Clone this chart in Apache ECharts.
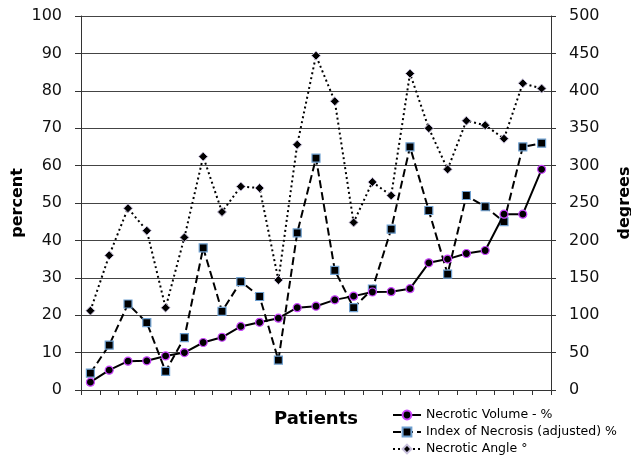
<!DOCTYPE html>
<html>
<head>
<meta charset="utf-8">
<script src="https://cdn.jsdelivr.net/npm/echarts@6/dist/echarts.min.js"></script>
<style>
html,body{margin:0;padding:0;background:#fff;}
#chart{width:631px;height:457px;}
</style>
</head>
<body>
<div id="chart"></div>
<script>
var patients = ['1','2','3','4','5','6','7','8','9','10','11','12','13','14','15','16','17','18','19','20','21','22','23','24','25'];
var necroticVolume = [2.1, 5.3, 7.7, 7.8, 9.1, 10.0, 12.7, 14.1, 17.0, 18.1, 19.2, 22.0, 22.4, 24.1, 25.1, 26.2, 26.3, 27.1, 34.0, 35.0, 36.5, 37.3, 47.0, 47.0, 59.0];
var indexOfNecrosis = [4.5, 12, 23, 18, 5, 14, 38, 21, 29, 25, 8, 42, 62, 32, 22, 27, 43, 65, 48, 31, 52, 49, 45, 65, 66];
var necroticAngle = [106, 180, 243, 213, 110, 204, 312, 238, 272, 270, 147, 328, 447, 386, 224, 278, 260, 423, 350, 295, 360, 354, 336, 410, 403];

var FONT = 'DejaVu Sans';
var chart = echarts.init(document.getElementById('chart'), null, {renderer: 'canvas'});
chart.setOption({
  animation: false,
  backgroundColor: '#ffffff',
  textStyle: {fontFamily: FONT, color: '#000'},
  grid: {left: 81, right: 80, top: 16, bottom: 67, containLabel: false, outerBoundsMode: 'none'},
  legend: {
    orient: 'vertical',
    left: 392,
    top: 408,
    height: 60,
    padding: 0,
    itemWidth: 28,
    itemHeight: 11,
    itemGap: 3,
    textStyle: {fontFamily: FONT, fontSize: 12.5, lineHeight: 14, color: '#000'},
    data: ['Necrotic Volume - %', 'Index of Necrosis (adjusted) %', 'Necrotic Angle °']
  },
  xAxis: {
    type: 'category',
    data: patients,
    boundaryGap: true,
    name: 'Patients',
    nameLocation: 'middle',
    nameGap: 20,
    nameTextStyle: {fontFamily: FONT, fontSize: 18, fontWeight: 'bold', color: '#000'},
    axisLine: {lineStyle: {color: '#333', width: 1}},
    axisTick: {show: true, interval: 0, length: 5, lineStyle: {color: '#333'}},
    axisLabel: {show: false, interval: 0},
    splitLine: {show: false}
  },
  yAxis: [
    {
      type: 'value', min: 0, max: 100, interval: 10,
      name: 'percent', nameLocation: 'middle', nameGap: 55, nameRotate: 90,
      nameMoveOverlap: false,
      nameTextStyle: {fontFamily: FONT, fontSize: 16, fontWeight: 'bold', color: '#000'},
      axisLine: {show: true, lineStyle: {color: '#333', width: 1}},
      axisTick: {show: true, length: 6, lineStyle: {color: '#333'}},
      axisLabel: {fontFamily: FONT, fontSize: 16, color: '#111', margin: 19},
      splitLine: {show: true, lineStyle: {color: '#444', width: 1}}
    },
    {
      type: 'value', min: 0, max: 500, interval: 50,
      name: 'degrees', nameLocation: 'middle', nameGap: 66, nameRotate: 90,
      nameTextStyle: {fontFamily: FONT, fontSize: 16, fontWeight: 'bold', color: '#000'},
      axisLine: {show: true, lineStyle: {color: '#333', width: 1}},
      axisTick: {show: true, length: 5, lineStyle: {color: '#333'}},
      axisLabel: {fontFamily: FONT, fontSize: 16, color: '#111', margin: 18},
      splitLine: {show: false}
    }
  ],
  series: [
    {
      name: 'Necrotic Angle °',
      type: 'line',
      yAxisIndex: 1,
      data: necroticAngle,
      symbol: 'diamond',
      symbolSize: 9,
      lineStyle: {color: '#000', width: 2, type: [2, 3]},
      itemStyle: {color: '#000', borderColor: '#c8c0dc', borderWidth: 1},
      z: 2
    },
    {
      name: 'Index of Necrosis (adjusted) %',
      type: 'line',
      yAxisIndex: 0,
      data: indexOfNecrosis,
      symbol: 'rect',
      symbolSize: 8,
      lineStyle: {color: '#000', width: 2, type: [8, 4]},
      itemStyle: {color: '#000', borderColor: '#6fa0d0', borderWidth: 1.2},
      z: 3
    },
    {
      name: 'Necrotic Volume - %',
      type: 'line',
      yAxisIndex: 0,
      data: necroticVolume,
      symbol: 'circle',
      symbolSize: 8,
      lineStyle: {color: '#000', width: 2, type: 'solid'},
      itemStyle: {color: '#000', borderColor: '#cc44ff', borderWidth: 1.2},
      z: 4
    }
  ]
});
</script>
</body>
</html>
